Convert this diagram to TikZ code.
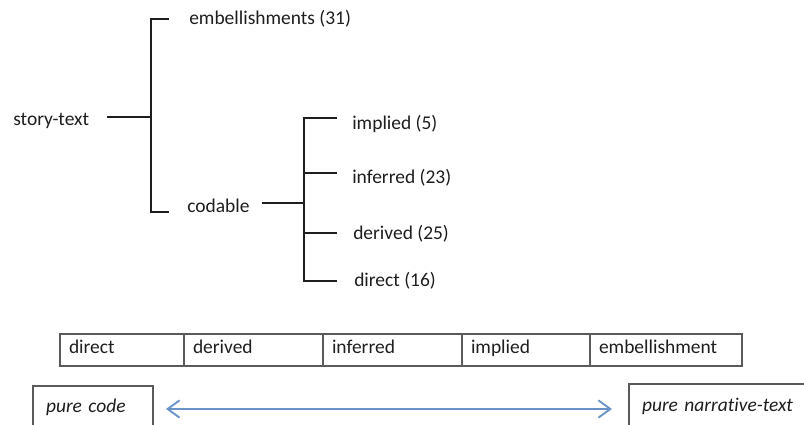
\documentclass[tikz,border=0pt]{standalone}
\usepackage{fontspec}
\setmainfont{Carlito}[Ligatures=NoCommon]
\usetikzlibrary{positioning,arrows.meta}
\definecolor{inkgray}{HTML}{1E1E1E}
\definecolor{rulegray}{HTML}{5A5A5A}
\definecolor{arrowblue}{HTML}{6A93C8}
\newcommand{\diafont}{\fontsize{14.6}{17}\selectfont}
\tikzset{
  lbl/.style={anchor=base west, inner sep=0pt, text=inkgray, font=\diafont},
  brk/.style={line width=1.5pt, draw=inkgray, line cap=butt},
  cell/.style={draw=rulegray, line width=0.9pt, minimum height=24pt, outer sep=0pt,
    inner xsep=6.75pt, inner ysep=0pt, text height=8.5pt, text depth=4pt,
    align=left, text=inkgray, font=\diafont},
  endbox/.style={cell, inner xsep=9.75pt, font=\diafont\itshape},
  dblarrow/.style={draw=arrowblue, line width=1.4pt,
    {Straight Barb[length=9pt,width=13pt]}-{Straight Barb[length=9pt,width=13pt]}}
}
\begin{document}
\begin{tikzpicture}[x=0.75pt,y=-0.75pt]
\useasboundingbox (0,0) rectangle (804,425);
\clip (0,0) rectangle (804,425);

% category tree
\node[lbl] (story) at (13,125) {story-text};
\node[lbl] (emb) at (189,24) {embellishments (31)};
\node[lbl] (cod) at (187,212) {codable};
\node[lbl] (impl) at (352,129) {implied (5)};
\node[lbl] (infr) at (352,183) {inferred (23)};
\node[lbl] (derv) at (353,239) {derived (25)};
\node[lbl] (dirc) at (354,286) {direct (16)};

\coordinate (story-r) at (107,117);
\coordinate (top-j) at (151,117);
\coordinate (top-a) at (151,19);
\coordinate (top-b) at (151,212);
\coordinate (emb-l) at (169,19);
\coordinate (cod-l) at (169,212);
\coordinate (cod-r) at (262,203);
\coordinate (sub-j) at (304,203);
\coordinate (sub-a) at (304,118);
\coordinate (sub-b) at (304,173);
\coordinate (sub-c) at (304,233);
\coordinate (sub-d) at (304,281);
\coordinate (impl-l) at (337,118);
\coordinate (infr-l) at (337,173);
\coordinate (derv-l) at (337,233);
\coordinate (dirc-l) at (337,281);

\draw[brk]
(story-r) -- (top-j)
(emb-l) -- (top-a) -- (top-b) -- (cod-l)
(cod-r) -- (sub-j)
(impl-l) -- (sub-a) -- (sub-d) -- (dirc-l)
(sub-b) -- (infr-l)
(sub-c) -- (derv-l);

% scale of types
\node[cell, text width=79.5pt, anchor=north west] (c1) at (60,334) {direct};
\node[cell, text width=90.75pt, right=0pt of c1] (c2) {derived};
\node[cell, text width=90.75pt, right=0pt of c2] (c3) {inferred};
\node[cell, text width=82.5pt, right=0pt of c3] (c4) {implied};
\node[cell, text width=100.5pt, right=0pt of c4] (c5) {embellishment};

% end points
\node[endbox, text width=70.5pt, minimum height=34.5pt, anchor=north west] (code) at (33,386) {pure code};
\node[endbox, text width=130.5pt, minimum height=36pt, anchor=north west] (narr) at (629,384) {pure narrative-text};

\draw[dblarrow, shorten <=9.75pt, shorten >=12.75pt] (code.east) -- (code.east -| narr.west);
\end{tikzpicture}
\end{document}
